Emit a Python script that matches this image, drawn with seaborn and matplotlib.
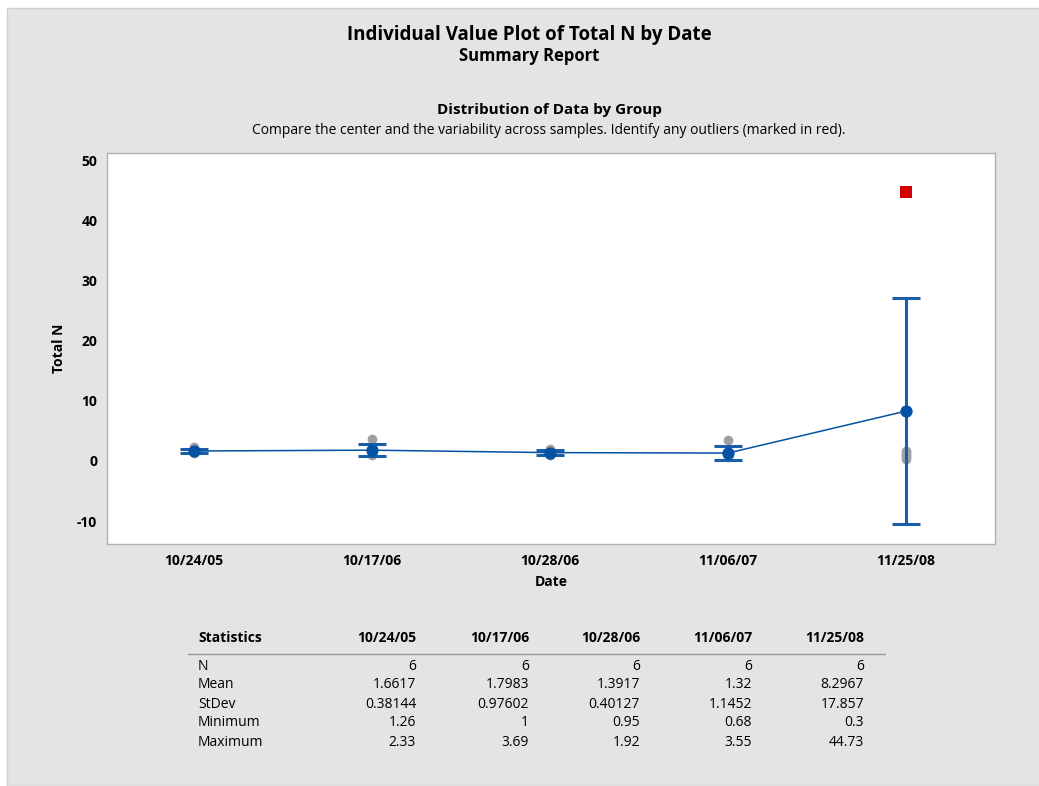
import matplotlib
matplotlib.use("Agg")
import matplotlib.pyplot as plt
import matplotlib.patches as mpatches
import numpy as np
import pandas as pd
import seaborn as sns

# data
dates = ["10/24/05", "10/17/06", "10/28/06", "11/06/07", "11/25/08"]
g1 = [1.26, 1.45, 1.52, 1.61, 1.80, 2.33]
g2 = [1.00, 1.15, 1.35, 1.50, 2.10, 3.69]
g3 = [0.95, 1.05, 1.20, 1.48, 1.75, 1.92]
g4 = [0.68, 0.75, 0.85, 0.94, 1.15, 3.55]
g5 = [0.30, 0.60, 1.05, 1.40, 1.70, 44.73]
outliers = [44.73]

# summary table
stat_n = [6, 6, 6, 6, 6]
stat_mean = [1.6617, 1.7983, 1.3917, 1.32, 8.2967]
stat_sd = [0.38144, 0.97602, 0.40127, 1.1452, 17.857]
stat_text = {
    "N": ["6", "6", "6", "6", "6"],
    "Mean": ["1.6617", "1.7983", "1.3917", "1.32", "8.2967"],
    "StDev": ["0.38144", "0.97602", "0.40127", "1.1452", "17.857"],
    "Minimum": ["1.26", "1", "0.95", "0.68", "0.3"],
    "Maximum": ["2.33", "3.69", "1.92", "3.55", "44.73"],
}

rows = []
for d, vals in zip(dates, [g1, g2, g3, g4, g5]):
    for v in vals:
        rows.append({"Date": d, "Total N": v, "outlier": v in outliers})
df = pd.DataFrame(rows)

sns.set_theme(style="white")
plt.rcParams["font.family"] = ["Open Sans", "DejaVu Sans"]
plt.rcParams["text.color"] = "black"
plt.rcParams["axes.labelcolor"] = "black"
plt.rcParams["xtick.color"] = "black"
plt.rcParams["ytick.color"] = "black"
plt.rcParams["axes.unicode_minus"] = False

BLUE = "#1a5eab"
DOT = "#0452a3"
W, H = 1039, 786
fig = plt.figure(figsize=(W / 100, H / 100), dpi=100, facecolor="white")
fig.patches.append(mpatches.Rectangle((7 / W, 0), 1, 1 - 8 / H, transform=fig.transFigure,
                                      facecolor="#e4e4e4", edgecolor="#cfcfcf", lw=1, zorder=-1))

ax = fig.add_axes([107 / W, 1 - 544 / H, (995 - 107) / W, (544 - 153) / H])
ax.set_facecolor("white")

sns.stripplot(data=df[~df["outlier"]], x="Date", y="Total N", order=dates, jitter=False,
              color="#a0a0a0", size=7, linewidth=0, ax=ax, zorder=2)
sns.stripplot(data=df[df["outlier"]], x="Date", y="Total N", order=dates, jitter=False,
              color="#d40000", marker="s", size=8, linewidth=0, ax=ax, zorder=2)

# 95% CI for the mean from the summary stats
t5 = 2.5706
ci = [t5 * s / np.sqrt(n) for s, n in zip(stat_sd, stat_n)]
ax.errorbar(range(len(dates)), stat_mean, yerr=ci, fmt="none", ecolor=BLUE, elinewidth=2.2,
            capsize=10, capthick=2.2, zorder=3)
sns.pointplot(data=df, x="Date", y="Total N", order=dates, errorbar=None, color=DOT,
              markersize=8, linewidth=1.1, ax=ax, zorder=4)

ax.set_xlim(-0.49, 4.5)
ax.set_ylim(-13.8, 51.2)
ax.set_yticks([-10, 0, 10, 20, 30, 40, 50])
ax.tick_params(axis="both", length=4, color="#a0a0a0", labelsize=10, direction="out", pad=3)
for lab in ax.get_xticklabels() + ax.get_yticklabels():
    lab.set_fontweight("bold")
for s in ax.spines.values():
    s.set_color("#b0b0b0")
    s.set_linewidth(1)
ax.set_xlabel("Date", fontsize=10, fontweight="bold", labelpad=5)
ax.set_ylabel("Total N", fontsize=10, fontweight="bold", labelpad=8)

fig.text(529 / W, 1 - 35 / H, "Individual Value Plot of Total N by Date", ha="center", va="center",
         fontsize=13.5, fontweight="bold")
fig.text(529 / W, 1 - 56 / H, "Summary Report", ha="center", va="center", fontsize=12, fontweight="bold")
fig.text(549 / W, 1 - 110 / H, "Distribution of Data by Group", ha="center", va="center",
         fontsize=11, fontweight="bold")
fig.text(549 / W, 1 - 130 / H,
         "Compare the center and the variability across samples. Identify any outliers (marked in red).",
         ha="center", va="center", fontsize=10)

# statistics table
col_right = [416, 529, 640, 752, 864]
fig.text(198 / W, 1 - 638 / H, "Statistics", ha="left", va="center", fontsize=10, fontweight="bold")
for x, d in zip(col_right, dates):
    fig.text(x / W, 1 - 638 / H, d, ha="right", va="center", fontsize=10, fontweight="bold")
fig.add_artist(plt.Line2D([188 / W, 885 / W], [1 - 654 / H, 1 - 654 / H], color="#999999", lw=1))
for i, (name, vals) in enumerate(stat_text.items()):
    y = 1 - (666 + 19 * i) / H
    fig.text(198 / W, y, name, ha="left", va="center", fontsize=10)
    for x, v in zip(col_right, vals):
        fig.text(x / W, y, v, ha="right", va="center", fontsize=10)

fig.savefig("out.png", dpi=100)
